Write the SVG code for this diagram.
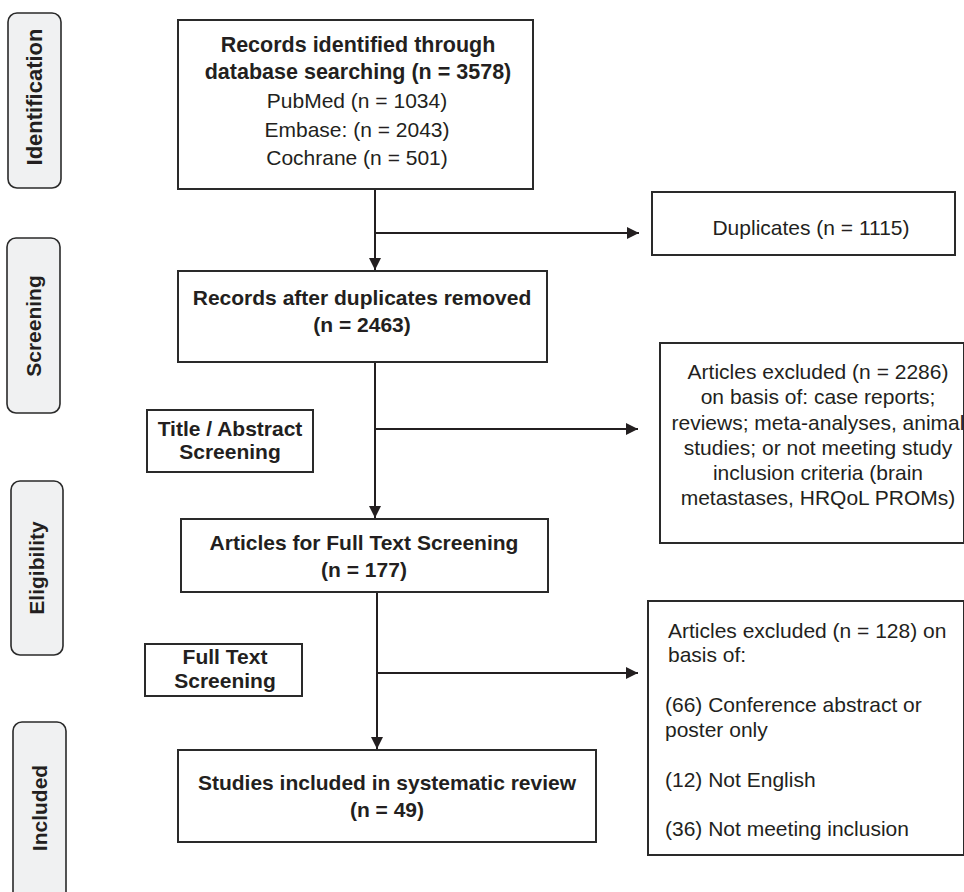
<svg xmlns="http://www.w3.org/2000/svg" width="964" height="892" viewBox="0 0 964 892">
<style>
  .box { fill: #ffffff; stroke: #2a2a2a; stroke-width: 2; }
  .side { fill: #f0f1f2; stroke: #2a2a2a; stroke-width: 1.6; }
  .t { font-family: "Liberation Sans", Arial, sans-serif; font-size: 21px; fill: #231f20; }
  .b { font-weight: bold; }
  .c { text-anchor: middle; }
  .conn { stroke: #231f20; stroke-width: 2; fill: none; }
</style>
<defs>
  <marker id="arr" viewBox="0 0 10 10" refX="10" refY="5" markerWidth="6" markerHeight="6" markerUnits="strokeWidth" orient="auto">
    <path d="M0,0 L10,5 L0,10 z" fill="#231f20"/>
  </marker>
</defs>
<rect width="964" height="892" fill="#ffffff"/>

<g id="phase-identification">
  <rect class="side" x="8" y="13" width="53" height="175" rx="9"/>
  <text class="t b c" transform="translate(42,97) rotate(-90)" style="font-size:22px">Identification</text>
</g>
<g id="phase-screening">
  <rect class="side" x="7" y="238" width="53" height="175" rx="9"/>
  <text class="t b c" transform="translate(41,326) rotate(-90)">Screening</text>
</g>
<g id="phase-eligibility">
  <rect class="side" x="11" y="481" width="52" height="174" rx="9"/>
  <text class="t b c" transform="translate(44,568) rotate(-90)">Eligibility</text>
</g>
<g id="phase-included">
  <rect class="side" x="13" y="722" width="53" height="180" rx="9"/>
  <text class="t b c" transform="translate(47,808) rotate(-90)">Included</text>
</g>

<g id="connectors">
  <line class="conn" x1="375" y1="189" x2="375" y2="270" marker-end="url(#arr)"/>
  <line class="conn" x1="375" y1="233" x2="639" y2="233" marker-end="url(#arr)"/>
  <line class="conn" x1="375" y1="362" x2="375" y2="518" marker-end="url(#arr)"/>
  <line class="conn" x1="376" y1="429" x2="638" y2="429" marker-end="url(#arr)"/>
  <line class="conn" x1="377" y1="592" x2="377" y2="749" marker-end="url(#arr)"/>
  <line class="conn" x1="378" y1="673" x2="638" y2="673" marker-end="url(#arr)"/>
</g>

<g id="records-identified">
  <rect class="box" x="178" y="20" width="355" height="169"/>
  <text class="t b c" x="358" y="52" style="font-size:21.5px">Records identified through</text>
  <text class="t b c" x="358" y="79" style="font-size:21.5px">database searching (n = 3578)</text>
  <text class="t c" x="357" y="108">PubMed (n = 1034)</text>
  <text class="t c" x="357" y="137">Embase: (n = 2043)</text>
  <text class="t c" x="357" y="165">Cochrane (n = 501)</text>
</g>

<g id="duplicates">
  <rect class="box" x="652" y="192" width="303" height="63"/>
  <text class="t c" x="811" y="235">Duplicates (n = 1115)</text>
</g>

<g id="records-after-duplicates">
  <rect class="box" x="178" y="271" width="369" height="91"/>
  <text class="t b c" x="362" y="305">Records after duplicates removed</text>
  <text class="t b c" x="362" y="332">(n = 2463)</text>
</g>

<g id="title-abstract-screening">
  <rect class="box" x="147" y="410" width="166" height="62"/>
  <text class="t b c" x="230" y="436">Title / Abstract</text>
  <text class="t b c" x="230" y="459">Screening</text>
</g>

<g id="excluded-2286">
  <rect class="box" x="660" y="343" width="304" height="200"/>
  <text class="t c" x="818" y="379">Articles excluded (n = 2286)</text>
  <text class="t c" x="818" y="404">on basis of: case reports;</text>
  <text class="t c" x="818" y="430">reviews; meta-analyses, animal</text>
  <text class="t c" x="818" y="455">studies; or not meeting study</text>
  <text class="t c" x="818" y="480">inclusion criteria (brain</text>
  <text class="t c" x="818" y="505">metastases, HRQoL PROMs)</text>
</g>

<g id="full-text-articles">
  <rect class="box" x="181" y="519" width="367" height="73"/>
  <text class="t b c" x="364" y="550">Articles for Full Text Screening</text>
  <text class="t b c" x="364" y="577">(n = 177)</text>
</g>

<g id="full-text-screening">
  <rect class="box" x="145" y="644" width="157" height="52"/>
  <text class="t b c" x="225" y="664">Full Text</text>
  <text class="t b c" x="225" y="688">Screening</text>
</g>

<g id="excluded-128">
  <rect class="box" x="648" y="601" width="316" height="254"/>
  <text class="t" x="668" y="638">Articles excluded (n = 128) on</text>
  <text class="t" x="668" y="662">basis of:</text>
  <text class="t" x="665" y="712">(66) Conference abstract or</text>
  <text class="t" x="665" y="737">poster only</text>
  <text class="t" x="665" y="787">(12) Not English</text>
  <text class="t" x="665" y="836">(36) Not meeting inclusion</text>
</g>

<g id="studies-included">
  <rect class="box" x="178" y="750" width="418" height="92"/>
  <text class="t b c" x="387" y="790">Studies included in systematic review</text>
  <text class="t b c" x="387" y="817">(n = 49)</text>
</g>
</svg>
